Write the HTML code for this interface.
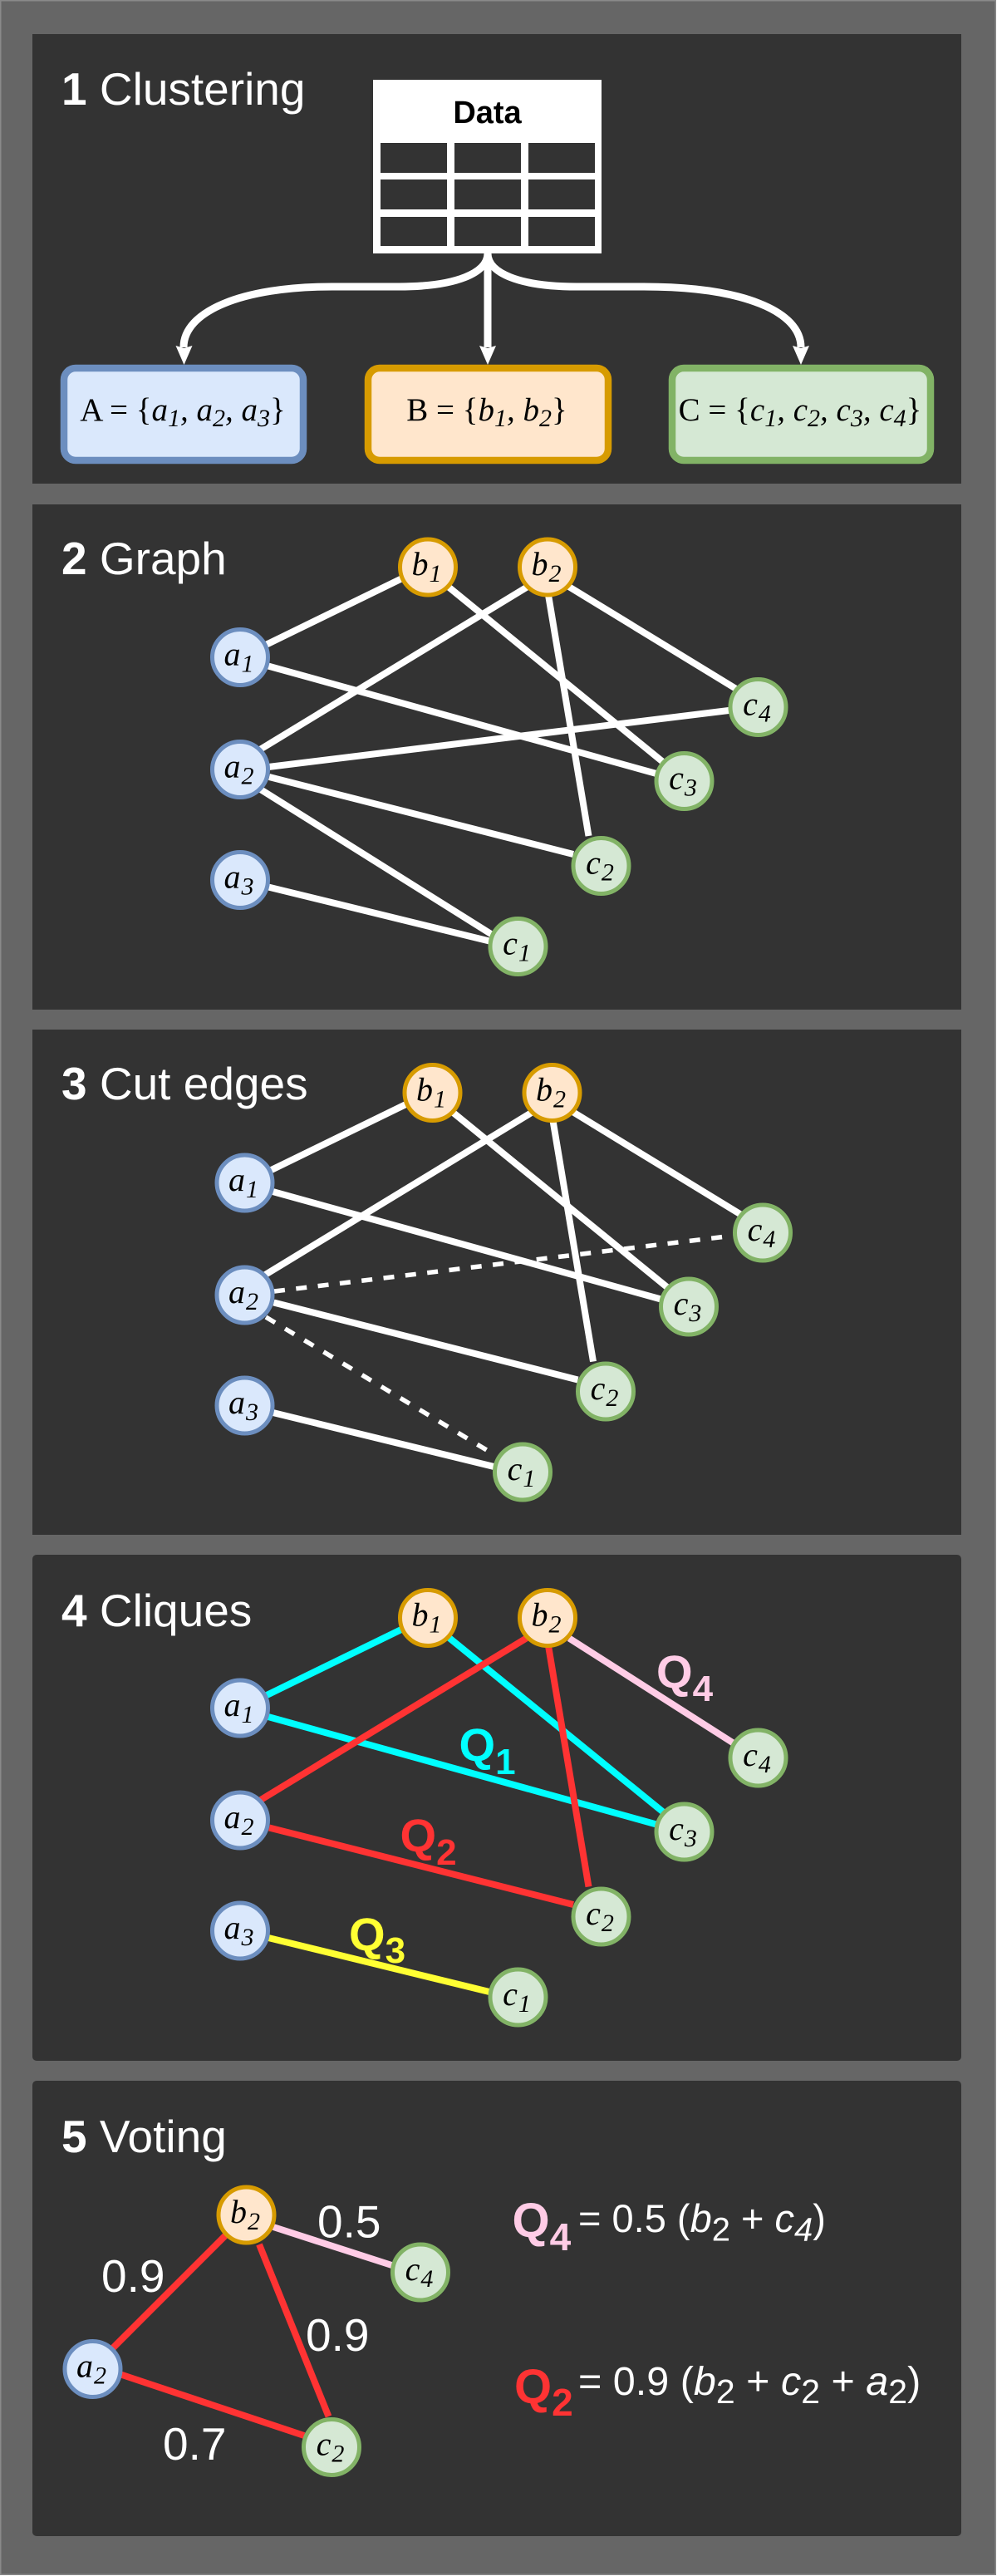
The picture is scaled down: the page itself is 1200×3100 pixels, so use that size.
<!DOCTYPE html>
<html><head><meta charset="utf-8"><style>
html,body{margin:0;padding:0;background:#fff}
svg{display:block}
.t{font-family:"Liberation Sans",sans-serif;fill:#fff;font-size:55px}
.b{font-weight:bold}
.n{font-family:"Liberation Serif",serif;font-style:italic;font-size:40px;fill:#000;text-anchor:middle}
.n tspan{font-size:30px}
.m{font-family:"Liberation Serif",serif;font-size:39px;fill:#000;text-anchor:middle}
.q{font-family:"Liberation Sans",sans-serif;font-weight:bold;font-size:56px}
.q tspan{font-size:44px}
.v{font-family:"Liberation Sans",sans-serif;font-size:55px;fill:#fff}
.f{font-family:"Liberation Sans",sans-serif;fill:#fff}
.A{fill:#dae8fc;stroke:#6c8ebf;stroke-width:5}
.B{fill:#ffe6cc;stroke:#d79b00;stroke-width:5}
.C{fill:#d5e8d4;stroke:#82b366;stroke-width:5}
.e line{stroke:#fff;stroke-width:8}
</style></head><body>
<svg xmlns="http://www.w3.org/2000/svg" width="1200" height="3100" viewBox="0 0 1200 3100">
<rect x="0.750" y="0.750" width="1197.500" height="3097.500" fill="#666" stroke="#8a8a8a" stroke-width="1.500"/>
<rect x="39" y="41" width="1118" height="541" fill="#333"/>
<rect x="39" y="607" width="1118" height="608" fill="#333"/>
<rect x="39" y="1239" width="1118" height="608" fill="#333"/>
<rect x="39" y="1871" width="1118" height="609" rx="5" fill="#333"/>
<rect x="39" y="2504" width="1118" height="548" rx="5" fill="#333"/>

<!-- Panel 1 -->
<text class="t" x="74" y="126"><tspan class="b">1</tspan> Clustering</text>
<rect x="449" y="96" width="275" height="209" fill="#fff"/>
<g fill="#333">
<rect x="458" y="172" width="80" height="36"/><rect x="547" y="172" width="80" height="36"/><rect x="636" y="172" width="80" height="36"/>
<rect x="458" y="216" width="80" height="36"/><rect x="547" y="216" width="80" height="36"/><rect x="636" y="216" width="80" height="36"/>
<rect x="458" y="261" width="80" height="35"/><rect x="547" y="261" width="80" height="35"/><rect x="636" y="261" width="80" height="35"/>
</g>
<text x="586.500" y="148" text-anchor="middle" font-family="'Liberation Sans',sans-serif" font-weight="bold" font-size="38" fill="#000">Data</text>
<g fill="none" stroke="#fff" stroke-width="9">
<path d="M587 305 C587 328 550 345 480 345 L400 345 C290 345 221 375 221 418"/>
<path d="M587 305 L587 418" />
<path d="M587 305 C587 328 624 345 694 345 L775 345 C895 345 964 375 964 418"/>
</g>
<g fill="#fff">
<polygon points="221.500,439 211.500,416 221.500,419 231.500,416"/>
<polygon points="587,439 577,416 587,419 597,416"/>
<polygon points="964,439 954,416 964,419 974,416"/>
</g>
<rect x="77" y="443" width="288" height="111" rx="14" fill="#dae8fc" stroke="#6c8ebf" stroke-width="8.500"/>
<rect x="443" y="443" width="289" height="111" rx="14" fill="#ffe6cc" stroke="#d79b00" stroke-width="8.500"/>
<rect x="809" y="443" width="311" height="111" rx="14" fill="#d5e8d4" stroke="#82b366" stroke-width="8.500"/>
<text class="m" x="220" y="506">A = {<tspan font-style="italic">a<tspan dy="7" font-size="30">1</tspan><tspan dy="-7">, a</tspan><tspan dy="7" font-size="30">2</tspan><tspan dy="-7">, a</tspan><tspan dy="7" font-size="30">3</tspan></tspan><tspan dy="-7">}</tspan></text>
<text class="m" x="586" y="506">B = {<tspan font-style="italic">b<tspan dy="7" font-size="30">1</tspan><tspan dy="-7">, b</tspan><tspan dy="7" font-size="30">2</tspan></tspan><tspan dy="-7">}</tspan></text>
<text class="m" x="963" y="506">C = {<tspan font-style="italic">c<tspan dy="7" font-size="30">1</tspan><tspan dy="-7">, c</tspan><tspan dy="7" font-size="30">2</tspan><tspan dy="-7">, c</tspan><tspan dy="7" font-size="30">3</tspan><tspan dy="-7">, c</tspan><tspan dy="7" font-size="30">4</tspan></tspan><tspan dy="-7">}</tspan></text>

<!-- Panel 2 -->
<text class="t" x="74" y="691"><tspan class="b">2</tspan> Graph</text>
<g class="e">
<line x1="320" y1="776" x2="484" y2="696"/>
<line x1="321" y1="801" x2="790" y2="931"/>
<line x1="313" y1="902" x2="635" y2="706"/>
<line x1="540" y1="706.500" x2="798" y2="917"/>
<line x1="660" y1="716" x2="708.500" y2="1006"/>
<line x1="683" y1="705" x2="886" y2="829"/>
<line x1="323" y1="923" x2="877" y2="855"/>
<line x1="324" y1="935" x2="690" y2="1028"/>
<line x1="312" y1="949" x2="595" y2="1126.500"/>
<line x1="321" y1="1067" x2="591" y2="1133"/>
</g>
<circle class="A" cx="289" cy="791" r="33.500"/><text class="n" x="287.500" y="800.500">a<tspan dy="8" dx="1">1</tspan></text>
<circle class="A" cx="289" cy="926" r="33.500"/><text class="n" x="287.500" y="935.500">a<tspan dy="8" dx="1">2</tspan></text>
<circle class="A" cx="289" cy="1059" r="33.500"/><text class="n" x="287.500" y="1068.500">a<tspan dy="8" dx="1">3</tspan></text>
<circle class="B" cx="515" cy="682.500" r="33.500"/><text class="n" x="513.500" y="692">b<tspan dy="8" dx="1">1</tspan></text>
<circle class="B" cx="659" cy="682.500" r="33.500"/><text class="n" x="657.500" y="692">b<tspan dy="8" dx="1">2</tspan></text>
<circle class="C" cx="623.500" cy="1139" r="33.500"/><text class="n" x="622" y="1148.500">c<tspan dy="8" dx="1">1</tspan></text>
<circle class="C" cx="723.500" cy="1042" r="33.500"/><text class="n" x="722" y="1051.500">c<tspan dy="8" dx="1">2</tspan></text>
<circle class="C" cx="823.500" cy="940" r="33.500"/><text class="n" x="822" y="949.500">c<tspan dy="8" dx="1">3</tspan></text>
<circle class="C" cx="912.500" cy="851" r="33.500"/><text class="n" x="911" y="860.500">c<tspan dy="8" dx="1">4</tspan></text>

<!-- Panel 3 -->
<text class="t" x="74" y="1323"><tspan class="b">3</tspan> Cut edges</text>
<g transform="translate(5.500,632.500)">
<g class="e">
<line x1="320" y1="776" x2="484" y2="696"/>
<line x1="321" y1="801" x2="790" y2="931"/>
<line x1="313" y1="902" x2="635" y2="706"/>
<line x1="540" y1="706.500" x2="798" y2="917"/>
<line x1="660" y1="716" x2="708.500" y2="1006"/>
<line x1="683" y1="705" x2="886" y2="829"/>
<line x1="324" y1="935" x2="690" y2="1028"/>
<line x1="321" y1="1067" x2="591" y2="1133"/>
<line x1="324.500" y1="921.500" x2="877" y2="854.500" stroke-dasharray="13 13.500" style="stroke-width:5.500"/>
<line x1="314.500" y1="952.500" x2="591" y2="1119" stroke-dasharray="13 14" style="stroke-width:5.500"/>
</g>
<circle class="A" cx="289" cy="791" r="33.500"/><text class="n" x="287.500" y="800.500">a<tspan dy="8" dx="1">1</tspan></text>
<circle class="A" cx="289" cy="926" r="33.500"/><text class="n" x="287.500" y="935.500">a<tspan dy="8" dx="1">2</tspan></text>
<circle class="A" cx="289" cy="1059" r="33.500"/><text class="n" x="287.500" y="1068.500">a<tspan dy="8" dx="1">3</tspan></text>
<circle class="B" cx="515" cy="682.500" r="33.500"/><text class="n" x="513.500" y="692">b<tspan dy="8" dx="1">1</tspan></text>
<circle class="B" cx="659" cy="682.500" r="33.500"/><text class="n" x="657.500" y="692">b<tspan dy="8" dx="1">2</tspan></text>
<circle class="C" cx="623.500" cy="1139" r="33.500"/><text class="n" x="622" y="1148.500">c<tspan dy="8" dx="1">1</tspan></text>
<circle class="C" cx="723.500" cy="1042" r="33.500"/><text class="n" x="722" y="1051.500">c<tspan dy="8" dx="1">2</tspan></text>
<circle class="C" cx="823.500" cy="940" r="33.500"/><text class="n" x="822" y="949.500">c<tspan dy="8" dx="1">3</tspan></text>
<circle class="C" cx="912.500" cy="851" r="33.500"/><text class="n" x="911" y="860.500">c<tspan dy="8" dx="1">4</tspan></text>
</g>

<!-- Panel 4 -->
<text class="t" x="74" y="1957"><tspan class="b">4</tspan> Cliques</text>
<g transform="translate(0,1264.500)">
<g stroke-width="8">
<line x1="320" y1="776" x2="484" y2="696" stroke="#0ff"/>
<line x1="321" y1="801" x2="790" y2="931" stroke="#0ff"/>
<line x1="540" y1="706" x2="798" y2="916" stroke="#0ff"/>
<line x1="313" y1="902" x2="635" y2="706" stroke="#f33"/>
<line x1="660" y1="716" x2="708.500" y2="1006" stroke="#f33"/>
<line x1="324" y1="935" x2="690" y2="1027.500" stroke="#f33"/>
<line x1="685" y1="707" x2="884" y2="834" stroke="#ffcce6"/>
<line x1="321" y1="1067" x2="591" y2="1133" stroke="#ff3"/>
</g>
<circle class="A" cx="289" cy="791" r="33.500"/><text class="n" x="287.500" y="800.500">a<tspan dy="8" dx="1">1</tspan></text>
<circle class="A" cx="289" cy="926" r="33.500"/><text class="n" x="287.500" y="935.500">a<tspan dy="8" dx="1">2</tspan></text>
<circle class="A" cx="289" cy="1059" r="33.500"/><text class="n" x="287.500" y="1068.500">a<tspan dy="8" dx="1">3</tspan></text>
<circle class="B" cx="515" cy="682.500" r="33.500"/><text class="n" x="513.500" y="692">b<tspan dy="8" dx="1">1</tspan></text>
<circle class="B" cx="659" cy="682.500" r="33.500"/><text class="n" x="657.500" y="692">b<tspan dy="8" dx="1">2</tspan></text>
<circle class="C" cx="623.500" cy="1139" r="33.500"/><text class="n" x="622" y="1148.500">c<tspan dy="8" dx="1">1</tspan></text>
<circle class="C" cx="723.500" cy="1042" r="33.500"/><text class="n" x="722" y="1051.500">c<tspan dy="8" dx="1">2</tspan></text>
<circle class="C" cx="823.500" cy="940" r="33.500"/><text class="n" x="822" y="949.500">c<tspan dy="8" dx="1">3</tspan></text>
<circle class="C" cx="912.500" cy="851" r="33.500"/><text class="n" x="911" y="860.500">c<tspan dy="8" dx="1">4</tspan></text>
</g>
<text class="q" x="552.500" y="2119" fill="#0ff">Q<tspan dy="16">1</tspan></text>
<text class="q" x="481.500" y="2228" fill="#f33">Q<tspan dy="16">2</tspan></text>
<text class="q" x="420" y="2347" fill="#ff3">Q<tspan dy="15">3</tspan></text>
<text class="q" x="790" y="2031" fill="#ffcce6">Q<tspan dy="16">4</tspan></text>

<!-- Panel 5 -->
<text class="t" x="74" y="2590"><tspan class="b">5</tspan> Voting</text>
<g stroke-width="8">
<line x1="329" y1="2680" x2="473" y2="2726.500" stroke="#ffcce6"/>
<line x1="272" y1="2689.500" x2="135.500" y2="2826" stroke="#f33"/>
<line x1="312" y1="2701" x2="395.500" y2="2908" stroke="#f33"/>
<line x1="145.500" y1="2857.500" x2="366" y2="2931" stroke="#f33"/>
</g>
<circle class="B" cx="296.500" cy="2665.500" r="33.500"/><text class="n" x="295" y="2675">b<tspan dy="8" dx="1">2</tspan></text>
<circle class="C" cx="506" cy="2734.500" r="33.500"/><text class="n" x="504.500" y="2744">c<tspan dy="8" dx="1">4</tspan></text>
<circle class="A" cx="111.500" cy="2851" r="33.500"/><text class="n" x="110" y="2860.500">a<tspan dy="8" dx="1">2</tspan></text>
<circle class="C" cx="399" cy="2945" r="33.500"/><text class="n" x="397.500" y="2954.500">c<tspan dy="8" dx="1">2</tspan></text>
<text class="v" x="382" y="2692.500">0.5</text>
<text class="v" x="122" y="2758">0.9</text>
<text class="v" x="368" y="2829">0.9</text>
<text class="v" x="196" y="2960">0.7</text>
<text class="q" x="616.500" y="2692" fill="#ffcce6" style="font-size:58px">Q<tspan dy="16" style="font-size:46px">4</tspan></text>
<text class="q" x="619" y="2892" fill="#f33" style="font-size:58px">Q<tspan dy="15" style="font-size:46px">2</tspan></text>
<text class="f" x="696" y="2686" font-size="47">= 0.5 (<tspan font-style="italic">b</tspan><tspan dy="10.500" font-size="40">2</tspan><tspan dy="-10.500"> + </tspan><tspan font-style="italic">c</tspan><tspan dy="10.500" font-size="40" font-style="italic">4</tspan><tspan dy="-10.500">)</tspan></text>
<text class="f" x="696" y="2882" font-size="48.500">= 0.9 (<tspan font-style="italic">b</tspan><tspan dy="10" font-size="41">2</tspan><tspan dy="-10"> + </tspan><tspan font-style="italic">c</tspan><tspan dy="10" font-size="41">2</tspan><tspan dy="-10"> + </tspan><tspan font-style="italic">a</tspan><tspan dy="10" font-size="41">2</tspan><tspan dy="-10">)</tspan></text>
</svg>
</body></html>
